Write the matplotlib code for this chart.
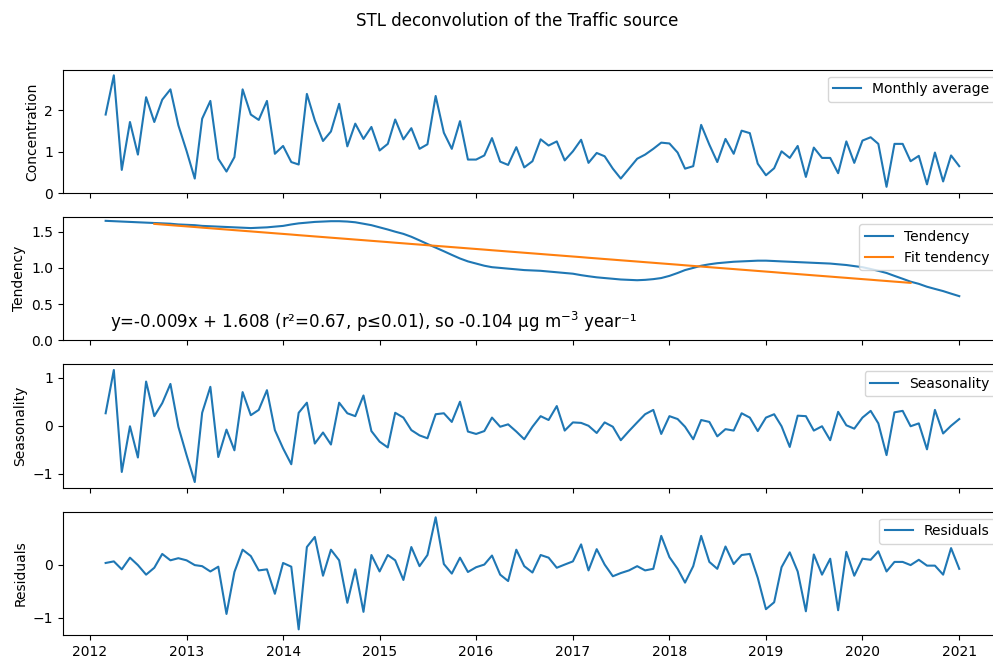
import numpy as np
import pandas as pd
import matplotlib.pyplot as plt

dates = pd.date_range("2012-03-01", "2021-01-01", freq="MS")

monthly = [1.90, 2.85, 0.56, 1.72, 0.93, 2.32, 1.72, 2.26, 2.51, 1.64,
           1.02, 0.35, 1.80, 2.23, 0.83, 0.52, 0.87, 2.51, 1.90, 1.77,
           2.23, 0.95, 1.14, 0.75, 0.69, 2.40, 1.76, 1.26, 1.49, 2.16,
           1.13, 1.68, 1.31, 1.60, 1.03, 1.19, 1.78, 1.30, 1.57, 1.07,
           1.18, 2.35, 1.46, 1.07, 1.74, 0.81, 0.81, 0.91, 1.33, 0.76,
           0.68, 1.11, 0.62, 0.77, 1.30, 1.15, 1.25, 0.79, 1.01, 1.29,
           0.73, 0.97, 0.89, 0.59, 0.35, 0.59, 0.83, 0.93, 1.07, 1.22,
           1.20, 0.98, 0.59, 0.65, 1.65, 1.17, 0.75, 1.31, 0.95, 1.51,
           1.45, 0.71, 0.43, 0.60, 1.01, 0.85, 1.14, 0.39, 1.10, 0.85,
           0.85, 0.48, 1.25, 0.73, 1.27, 1.35, 1.19, 0.15, 1.19, 1.19,
           0.77, 0.90, 0.21, 0.98, 0.28, 0.91, 0.65]

tendency = [1.65, 1.645, 1.64, 1.635, 1.63, 1.625, 1.62, 1.615, 1.61, 1.60,
            1.595, 1.59, 1.58, 1.575, 1.57, 1.565, 1.56, 1.555, 1.55, 1.555,
            1.56, 1.57, 1.58, 1.60, 1.615, 1.625, 1.635, 1.64, 1.645, 1.645,
            1.64, 1.63, 1.61, 1.59, 1.56, 1.53, 1.50, 1.47, 1.43, 1.38,
            1.33, 1.28, 1.23, 1.18, 1.13, 1.09, 1.06, 1.03, 1.01, 1.00,
            0.99, 0.98, 0.97, 0.965, 0.96, 0.95, 0.94, 0.93, 0.92, 0.90,
            0.885, 0.87, 0.86, 0.85, 0.84, 0.835, 0.83, 0.835, 0.845, 0.86,
            0.89, 0.93, 0.97, 1.00, 1.03, 1.05, 1.065, 1.075, 1.085, 1.09,
            1.095, 1.10, 1.10, 1.095, 1.09, 1.085, 1.08, 1.075, 1.07, 1.065,
            1.06, 1.05, 1.04, 1.025, 1.01, 0.985, 0.96, 0.93, 0.89, 0.85,
            0.81, 0.78, 0.74, 0.71, 0.68, 0.645, 0.61]

seasonality = [0.26, 1.16, -0.96, -0.01, -0.66, 0.92, 0.20, 0.47, 0.87, -0.02,
               -0.61, -1.17, 0.27, 0.81, -0.65, -0.08, -0.51, 0.70, 0.22, 0.33,
               0.74, -0.09, -0.47, -0.80, 0.27, 0.48, -0.37, -0.14, -0.39, 0.48,
               0.26, 0.20, 0.63, -0.11, -0.33, -0.45, 0.27, 0.17, -0.09, -0.20,
               -0.26, 0.24, 0.26, 0.08, 0.50, -0.12, -0.17, -0.11, 0.17, -0.02,
               0.03, -0.12, -0.28, -0.02, 0.20, 0.12, 0.41, -0.10, 0.07, 0.06,
               0.00, -0.15, 0.07, -0.02, -0.30, -0.11, 0.07, 0.24, 0.33, -0.17,
               0.20, 0.14, -0.02, -0.28, 0.12, 0.08, -0.22, -0.07, -0.10, 0.26,
               0.17, -0.11, 0.17, 0.24, -0.01, -0.44, 0.21, 0.20, -0.10, -0.01,
               -0.30, 0.29, 0.01, -0.06, 0.17, 0.31, 0.05, -0.61, 0.28, 0.31,
               -0.01, 0.05, -0.49, 0.33, -0.16, 0.00, 0.14]

residuals = [0.03, 0.06, -0.09, 0.13, -0.01, -0.19, -0.06, 0.20, 0.08, 0.12,
             0.08, -0.01, -0.03, -0.13, -0.04, -0.93, -0.14, 0.28, 0.16, -0.11,
             -0.09, -0.55, 0.03, -0.04, -1.22, 0.33, 0.52, -0.21, 0.28, 0.08,
             -0.72, -0.09, -0.89, 0.18, -0.13, 0.18, 0.08, -0.29, 0.33, -0.03,
             0.18, 0.89, 0.01, -0.17, 0.13, -0.14, -0.05, 0.00, 0.17, -0.19,
             -0.31, 0.28, -0.03, -0.15, 0.18, 0.13, -0.06, 0.00, 0.06, 0.38,
             -0.11, 0.29, 0.00, -0.22, -0.16, -0.11, -0.03, -0.11, -0.08, 0.54,
             0.14, -0.08, -0.34, -0.03, 0.54, 0.05, -0.08, 0.34, 0.01, 0.18,
             0.20, -0.25, -0.84, -0.71, -0.05, 0.23, -0.13, -0.88, 0.19, -0.19,
             0.11, -0.86, 0.24, -0.21, 0.11, 0.09, 0.25, -0.13, 0.05, 0.05,
             -0.01, 0.09, -0.02, -0.02, -0.19, 0.31, -0.08]

# linear fit on the tendency (trimmed 6 months each side), per month
fit_start, fit_end = 6, 101
slope = -0.104 / 12
intercept = 1.608
fit_dates = dates[fit_start:fit_end]
fit_y = intercept + slope * np.arange(len(fit_dates))

fig, axes = plt.subplots(4, 1, sharex=True, figsize=(9.93, 6.58), dpi=100)
fig.subplots_adjust(left=0.0634, right=1.009, top=0.894, bottom=0.035, hspace=0.195)
fig.suptitle("STL deconvolution of the Traffic source", x=0.521, y=0.982, fontsize=12)

ax1, ax2, ax3, ax4 = axes

ax1.plot(dates, monthly, label="Monthly average")
ax1.set_ylabel("Concentration")
ax1.set_ylim(bottom=0)
ax1.legend(loc="upper right")

ax2.plot(dates, tendency, label="Tendency")
ax2.plot(fit_dates, fit_y, label="Fit tendency")
ax2.set_ylim(bottom=0)
ax2.set_ylabel("Tendency")
ax2.legend(loc="upper right")
ax2.text(0.05, 0.1, "y=-0.009x + 1.608 (r²=0.67, p≤0.01), so -0.104 µg m$^{-3}$ year⁻¹",
         transform=ax2.transAxes, fontsize=12)

ax3.plot(dates, seasonality, label="Seasonality")
ax3.set_ylabel("Seasonality")
ax3.legend(loc="upper right")

ax4.plot(dates, residuals, label="Residuals")
ax4.set_ylabel("Residuals")
ax4.legend(loc="upper right")

# the original image is cut off on the right, past the legends
for ax in axes:
    ax.spines["right"].set_visible(False)

fig.savefig("out.png", dpi=100)
